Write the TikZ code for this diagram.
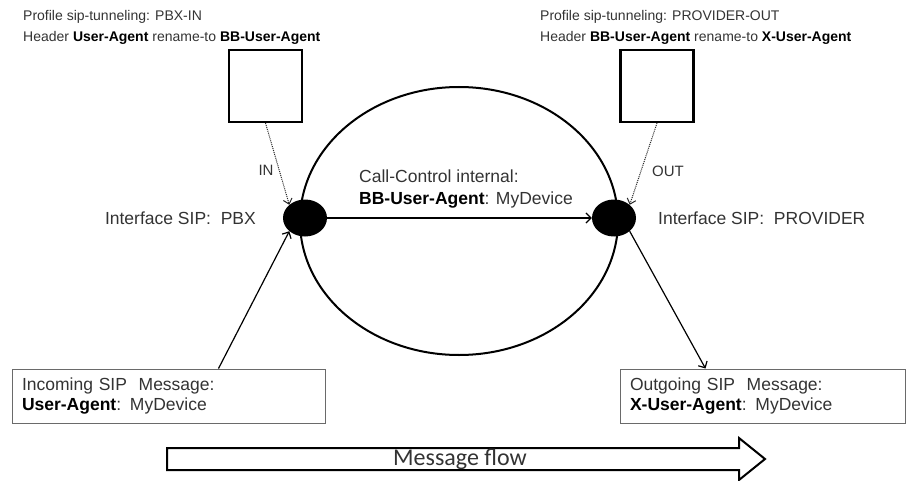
\documentclass[tikz,border=0pt]{standalone}
\usepackage{xcolor}
\usepackage{fontspec}
\setmainfont{Liberation Sans}
\newfontfamily\flowfont{Carlito}
\usetikzlibrary{shapes.geometric,arrows.meta}
\definecolor{labelgray}{HTML}{333333}
\definecolor{boxgray}{HTML}{6A6A6A}
\newcommand{\sipname}[1]{\textbf{\textcolor{black}{#1}}}

\begin{document}
\begin{tikzpicture}[x=1pt,y=-1pt,
    toplabel/.style={anchor=west, align=left, inner sep=0pt, text=labelgray, font=\fontsize{14}{21}\selectfont},
    midlabel/.style={inner sep=0pt, align=left, text=labelgray, font=\fontsize{17.5}{22}\selectfont},
    profilebox/.style={draw, line width=2.2pt, minimum width=73pt, minimum height=72pt, inner sep=0pt},
    iface/.style={ellipse, fill=black, minimum width=44pt, minimum height=37pt, inner sep=0pt},
    msgbox/.style={draw=boxgray, line width=1pt, minimum height=54pt, inner xsep=10pt, align=left, text=labelgray, font=\fontsize{17.5}{20.5}\selectfont},
    flowline/.style={-{Straight Barb[length=5pt,width=10pt]}, line width=1.2pt},
    tunnel/.style={-{Straight Barb[length=5pt,width=9pt]}, densely dotted, line width=1pt, draw=black!85}]

  \useasboundingbox (0,0) rectangle (920,481);

  % profiles on top
  \node[toplabel] (inprofile) at (23,27.5) {Profile sip-tunneling: PBX-IN\\Header \sipname{User-Agent} rename-to \sipname{BB-User-Agent}};
  \node[toplabel] (outprofile) at (540,27.5) {Profile sip-tunneling: PROVIDER-OUT\\Header \sipname{BB-User-Agent} rename-to \sipname{X-User-Agent}};
  \node[profilebox] (insq) at (265.5,86) {};
  \node[profilebox] (outsq) at (657,86) {};

  % call control
  \draw[line width=2pt] (459,221) ellipse [x radius=159pt, y radius=134pt];
  \node[iface] (pbx) at (305,218) {};
  \node[iface] (provider) at (614,218) {};
  \node[midlabel, anchor=west] (internal) at (359,189) {Call-Control internal:\\\sipname{BB-User-Agent}: MyDevice};
  \node[midlabel, anchor=east] (pbxlabel) at (256,218) {Interface SIP:\ \ PBX};
  \node[midlabel, anchor=west] (providerlabel) at (658,218) {Interface SIP:\ \ PROVIDER};
  \node[midlabel, font=\fontsize{15}{18}\selectfont] (inlabel) at (266,170) {IN};
  \node[midlabel, font=\fontsize{15}{18}\selectfont] (outlabel) at (668,171) {OUT};

  \draw[tunnel] (insq.south) -- (pbx.north west);
  \draw[tunnel] (outsq.south) -- (provider.north east);
  \draw[flowline] (pbx.east) -- (provider.west);

  % messages
  \node[msgbox, text width=293pt] (incoming) at (168.5,396) {Incoming SIP\ \ Message:\\\sipname{User-Agent}: MyDevice};
  \node[msgbox, text width=265pt] (outgoing) at (762.5,396) {Outgoing SIP\ \ Message:\\\sipname{X-User-Agent}: MyDevice};
  \draw[flowline] ([xshift=50pt]incoming.north) -- (pbx.south west);
  \draw[flowline] (provider.south east) -- ([xshift=-57pt]outgoing.north);

  % message flow arrow
  \draw[line width=2pt, line join=miter] (167,448) -- (739,448) -- (739,438) -- (765,459)
    -- (739,480) -- (739,470) -- (167,470) -- cycle;
  \node[inner sep=0pt, text=labelgray, font=\flowfont\fontsize{24}{26}\selectfont] (flow) at (460,459) {Message flow};
\end{tikzpicture}
\end{document}
